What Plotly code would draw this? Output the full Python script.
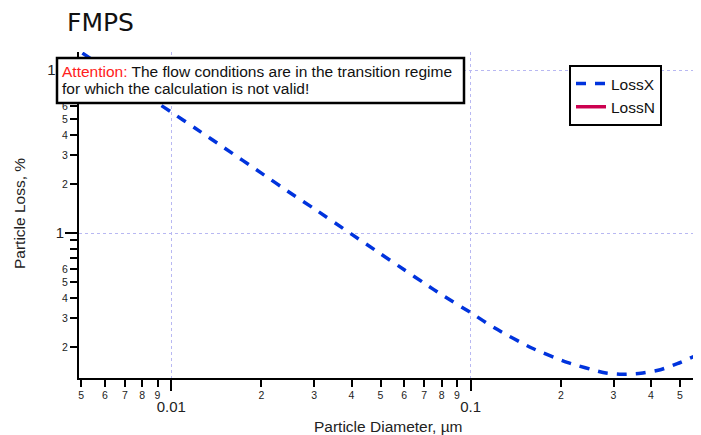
import math
import plotly.graph_objects as go

# ---------------- data ----------------
diameter_um = [0.00505, 0.006, 0.007, 0.008, 0.009, 0.01, 0.012, 0.015, 0.02, 0.025,
               0.03, 0.04, 0.05, 0.06, 0.07, 0.08, 0.1, 0.12, 0.16, 0.21,
               0.28, 0.32, 0.37, 0.43, 0.49, 0.557]
loss_x = [12.7, 10.3, 8.58, 7.31, 6.28, 5.52, 4.41, 3.34, 2.33, 1.76,
          1.41, 0.985, 0.746, 0.595, 0.492, 0.418, 0.325, 0.262, 0.197, 0.161,
          0.139, 0.136, 0.138, 0.145, 0.158, 0.175]
loss_n = [None] * len(diameter_um)

x_minor_vals = [0.005, 0.006, 0.007, 0.008, 0.009,
                0.02, 0.03, 0.04, 0.05, 0.06, 0.07, 0.08, 0.09,
                0.2, 0.3, 0.4, 0.5]
x_minor_text = ["5", "6", "7", "8", "9",
                "2", "3", "4", "5", "6", "7", "8", "9",
                "2", "3", "4", "5"]
x_major_vals = [0.01, 0.1]
x_major_text = ["0.01", "0.1"]

y_minor_vals = [0.2, 0.3, 0.4, 0.5, 0.6, 0.7, 0.8, 0.9,
                2, 3, 4, 5, 6, 7, 8, 9]
y_minor_text = ["2", "3", "4", "5", "6", "", "", "",
                "2", "3", "4", "5", "6", "", "", ""]
y_major_vals = [1, 10]
y_major_text = ["1", "10"]

x_limits = [0.00492, 0.557]
y_limits = [0.129, 12.9]

FONT = "Liberation Sans, Arial, sans-serif"
xr = [math.log10(v) for v in x_limits]
yr = [math.log10(v) for v in y_limits]

# page body has an 8px margin: build the figure 8px smaller so it lands in place
OFF = 8
W, H = 701 - OFF, 435 - OFF
PL, PT, PR, PB = 79, 52, 694, 378          # plot box in window pixels
L, T = PL - OFF, PT - OFF
R, B = W - (PR - OFF), H - (PB - OFF)
PW, PH = PR - PL, PB - PT


def px_x(p):
    return (p - PL) / PW


def px_y(p):
    return (PB - p) / PH


fig = go.Figure()
fig.add_trace(go.Scatter(
    x=diameter_um, y=loss_x, name="LossX", mode="lines",
    line=dict(color="#0033dd", width=3.5, dash="10px,9px", shape="spline", smoothing=0.6),
    xaxis="x", yaxis="y"))
fig.add_trace(go.Scatter(
    x=diameter_um, y=loss_n, name="LossN", mode="lines",
    line=dict(color="#cc0050", width=3.5),
    xaxis="x2", yaxis="y2"))

common_axis = dict(type="log", zeroline=False, ticks="outside", automargin=False,
                   tickcolor="black", tickwidth=2, tickmode="array")

fig.update_layout(
    width=W, height=H,
    margin=dict(l=L, r=R, t=T, b=B, autoexpand=False),
    paper_bgcolor="white", plot_bgcolor="white",
    font=dict(family=FONT, color="#222222", size=15.5),
    xaxis=dict(**common_axis, range=xr, tickvals=x_minor_vals, ticktext=x_minor_text,
               ticklen=7, tickfont=dict(size=10.5), showgrid=False, ticklabelstandoff=-1,
               showline=True, linecolor="black", linewidth=2),
    xaxis2=dict(**common_axis, range=xr, tickvals=x_major_vals, ticktext=x_major_text,
                overlaying="x", anchor="y", side="bottom", showline=False,
                ticklen=12, tickfont=dict(size=15), ticklabelstandoff=3,
                showgrid=True, gridcolor="#b8b8f2", griddash="dot", gridwidth=1),
    yaxis=dict(**common_axis, range=yr, tickvals=y_minor_vals, ticktext=y_minor_text,
               ticklen=7, tickfont=dict(size=10.5), showgrid=False,
               showline=True, linecolor="black", linewidth=2),
    yaxis2=dict(**common_axis, range=yr, tickvals=y_major_vals, ticktext=y_major_text,
                overlaying="y", anchor="x", side="left", showline=False,
                ticklen=13, tickfont=dict(size=15), ticklabelstandoff=-2,
                showgrid=True, gridcolor="#b8b8f2", griddash="dot", gridwidth=1),
    legend=dict(x=px_x(569), y=px_y(65), xanchor="left", yanchor="top",
                bordercolor="black", borderwidth=2, bgcolor="white",
                font=dict(family=FONT, size=15.5, color="#111111"),
                tracegroupgap=0),
    showlegend=True,
)

# title
fig.add_annotation(xref="paper", yref="paper", x=px_x(65), y=px_y(22),
                   xanchor="left", yanchor="middle", showarrow=False,
                   text="FMPS",
                   font=dict(family="DejaVu Sans, Verdana, sans-serif", size=25, color="#111111"))
# axis titles
fig.add_annotation(xref="paper", yref="paper", x=px_x(388), y=px_y(426),
                   xanchor="center", yanchor="middle", showarrow=False,
                   text="Particle Diameter, µm",
                   font=dict(family=FONT, size=15.5, color="#222222"))
fig.add_annotation(xref="paper", yref="paper", x=px_x(19), y=px_y(214),
                   xanchor="center", yanchor="middle", showarrow=False, textangle=-90,
                   text="Particle Loss, %",
                   font=dict(family=FONT, size=15.5, color="#222222"))

# warning box
fig.add_shape(type="rect", xref="paper", yref="paper",
              x0=px_x(57), x1=px_x(464), y0=px_y(103), y1=px_y(58),
              line=dict(color="black", width=2.5), fillcolor="white", layer="above")
fig.add_annotation(xref="paper", yref="paper", x=px_x(60), y=px_y(71),
                   xanchor="left", yanchor="middle", showarrow=False, align="left",
                   text="<span style='color:#ff2020'>Attention:</span> The flow conditions are in the transition regime",
                   font=dict(family=FONT, size=15.5, color="#111111"))
fig.add_annotation(xref="paper", yref="paper", x=px_x(60), y=px_y(88),
                   xanchor="left", yanchor="middle", showarrow=False, align="left",
                   text="for which the calculation is not valid!",
                   font=dict(family=FONT, size=15.5, color="#111111"))

fig.write_html("out.html")
